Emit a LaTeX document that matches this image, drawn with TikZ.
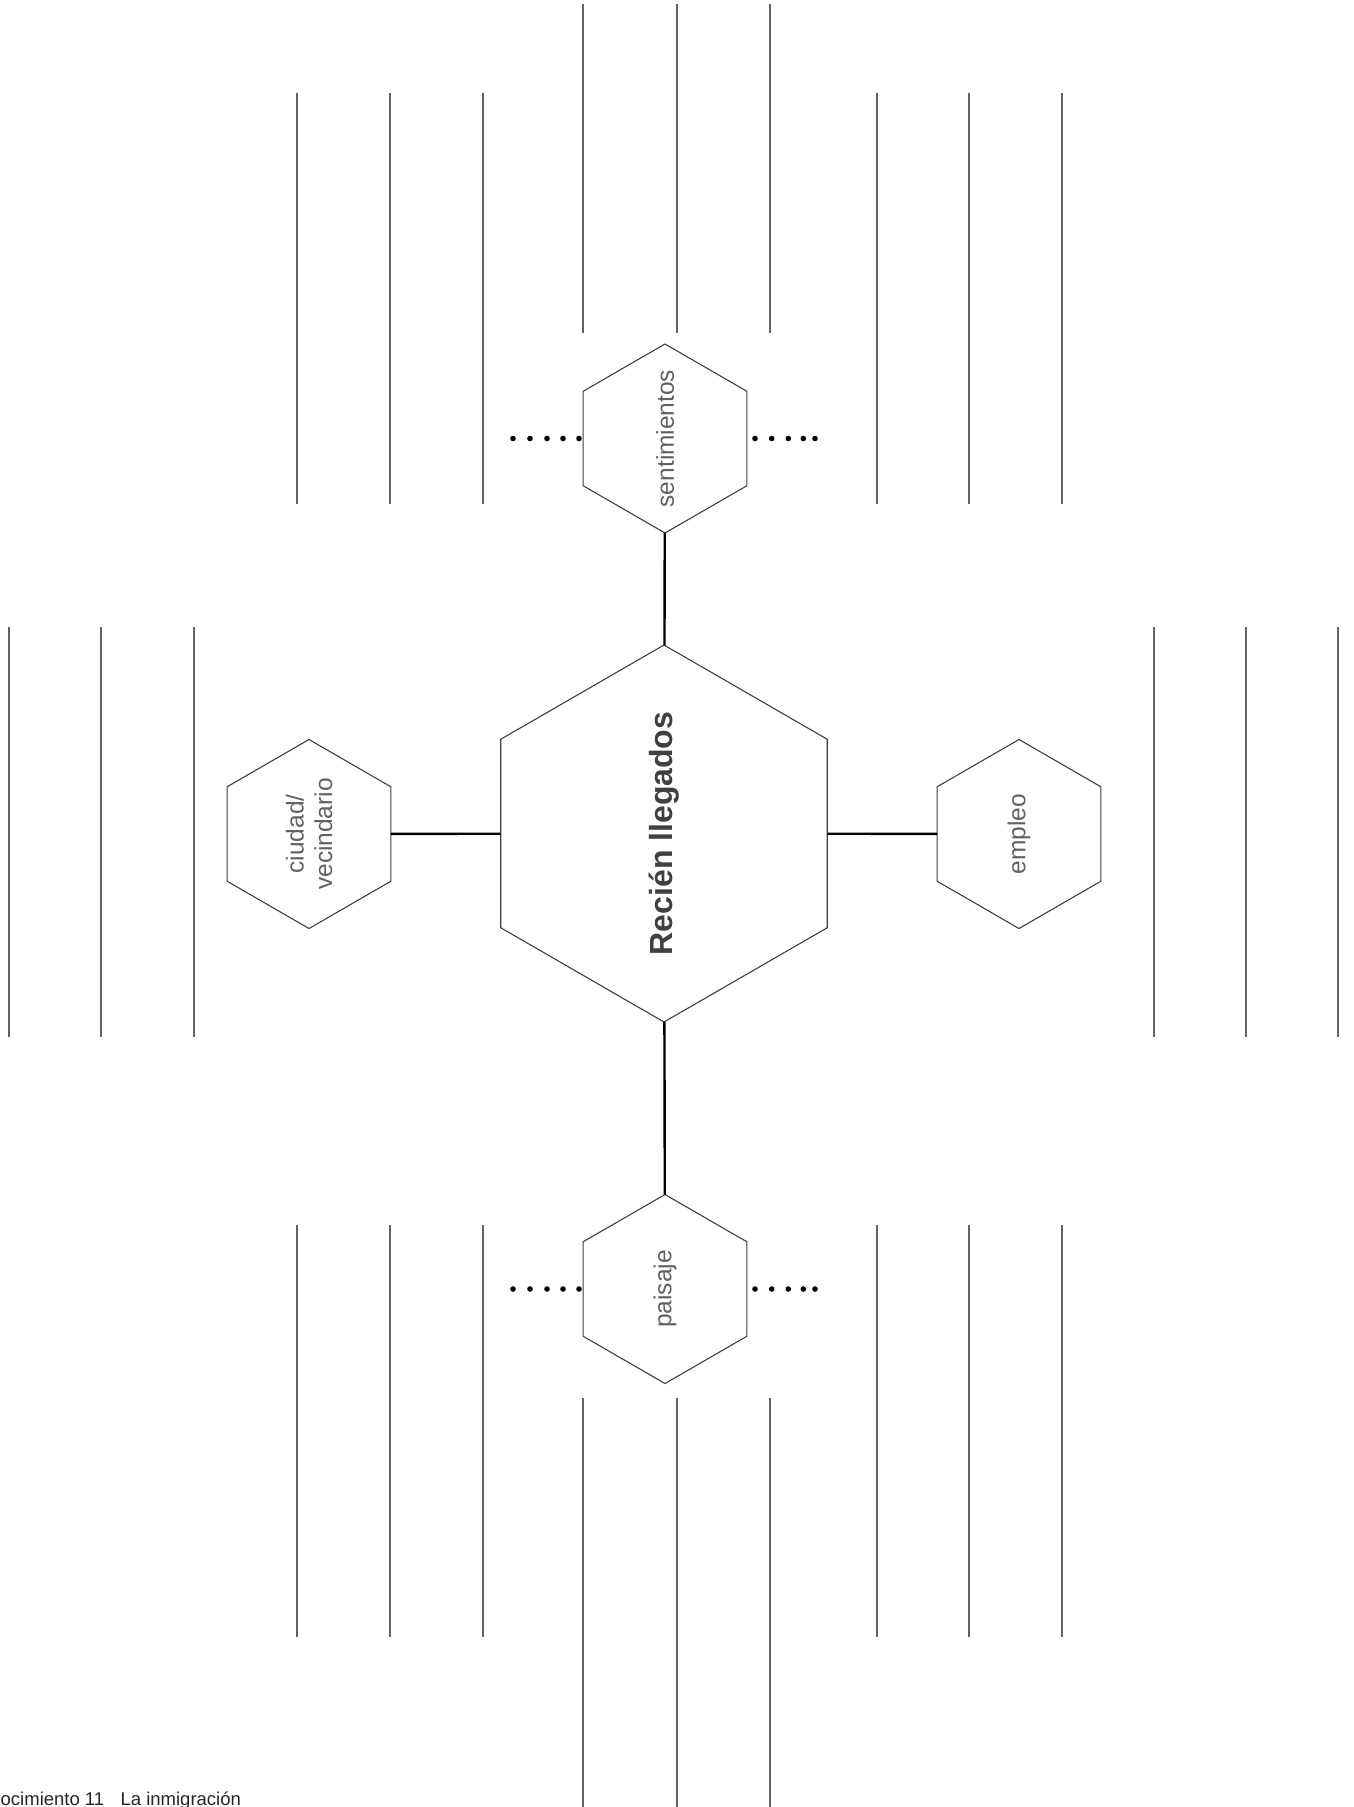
\documentclass[tikz,border=0pt]{standalone}
\usepackage{fontspec}
\setmainfont{Liberation Sans}
\usetikzlibrary{shapes.geometric}
\begin{document}
\begin{tikzpicture}[x=1pt,y=-1pt,
  hexa/.style={regular polygon, regular polygon sides=6, rotate=90, draw=black!75,
    line width=1.1pt, inner sep=0pt, outer sep=0pt},
  lbl/.style={rotate=90, inner sep=0pt, text=black!62,
    font=\fontsize{24.5}{28.5}\selectfont, align=center},
  conn/.style={line width=2.4pt, black},
  rulel/.style={line width=1.1pt, black!62},
  foot/.style={inner sep=0pt, font=\fontsize{18.5}{22}\selectfont, text=black!85}]
\useasboundingbox (0,0) rectangle (1353,1807);
\fill[white] (0,0) rectangle (1353,1807);
% ruled lines
\foreach \x in {297,390,483,877,969,1062} {
  \draw[rulel] (\x,93) -- (\x,504);
  \draw[rulel] (\x,1225) -- (\x,1637);
}
\foreach \x in {583,677,770} {
  \draw[rulel] (\x,4) -- (\x,333);
  \draw[rulel] (\x,1398) -- (\x,1807);
}
\foreach \x in {9,101,194,1154,1246,1338}
  \draw[rulel] (\x,627) -- (\x,1037);
% hexagons
\node[hexa, minimum size=377pt] (c) at (664,833.5) {};
\node[hexa, minimum size=189pt] (s) at (665,438.5) {};
\node[hexa, minimum size=189pt] (p) at (665,1289) {};
\node[hexa, minimum size=189pt] (ci) at (309,834) {};
\node[hexa, minimum size=189pt] (e) at (1019,834) {};
% labels
\node[lbl, text=black!75, font=\bfseries\fontsize{32}{36}\selectfont] (ct) at (c) {Recién llegados};
\node[lbl] (st) at (s) {sentimientos};
\node[lbl] (pt) at (p) {paisaje};
\node[lbl] (cit) at (ci) {ciudad/\\vecindario};
\node[lbl] (et) at (e) {empleo};
% connectors
\draw[conn] (c) -- (s);
\draw[conn] (c) -- (p);
\draw[conn] (c) -- (ci);
\draw[conn] (c) -- (e);
% dots
\foreach \y in {438.5,1289} {
  \foreach \x in {513,530,547,563,579,755,771.7,788.3,803.3,815}
    \fill[black] (\x,\y) circle[radius=2.8pt];
}
% footer
\node[foot, anchor=base west] (f1) at (0.5,1805) {ocimiento 11};
\node[foot, anchor=base west] (f2) at ([xshift=16pt]f1.base east) {La inmigración};
\end{tikzpicture}
\end{document}
